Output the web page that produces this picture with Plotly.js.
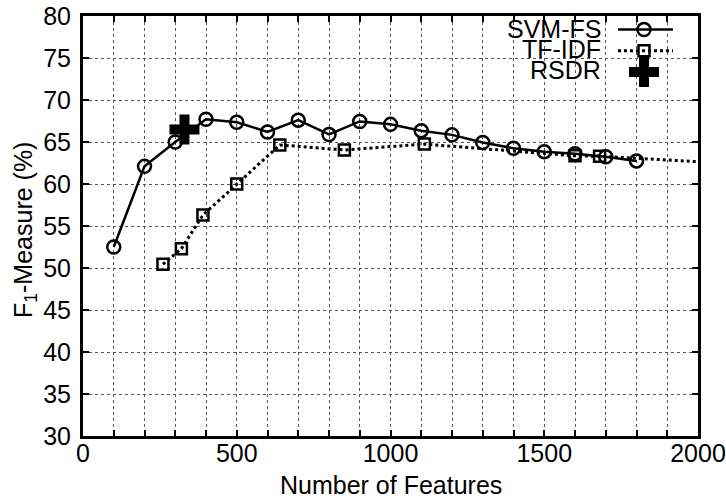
<!DOCTYPE html>
<html>
<head>
<meta charset="utf-8">
<script src="https://cdn.plot.ly/plotly-3.0.1.min.js"></script>
<style>html,body{margin:0;padding:0;background:#fff;}#chart{width:726px;height:499px;}</style>
</head>
<body>
<div id="chart"></div>
<script>
// ---- data ----
var svmX = [100, 200, 300, 400, 500, 600, 700, 800, 900, 1000, 1100, 1200, 1300, 1400, 1500, 1600, 1700, 1800];
var svmY = [52.5, 62.1, 65.0, 67.7, 67.35, 66.2, 67.6, 65.9, 67.45, 67.1, 66.35, 65.85, 64.95, 64.25, 63.85, 63.6, 63.25, 62.75];
var tfX = [260, 320, 390, 500, 640, 850, 1110, 1600, 1680, 2200];
var tfY = [50.45, 52.3, 56.3, 60.0, 64.65, 64.05, 64.75, 63.35, 63.3, 62.25];
var rsdrX = [330];
var rsdrY = [66.5];
var seriesNames = ["SVM-FS", "TF-IDF", "RSDR"];
var xTitle = "Number of Features";
var yTitle = "F<sub>1</sub>-Measure (%)";

var FONT = "Liberation Sans, Arial, Helvetica, sans-serif";
var GRID = "#555";

var traces = [
  {x: svmX, y: svmY, name: seriesNames[0], type: "scatter", mode: "lines+markers",
   line: {color: "#000", width: 2.5},
   marker: {symbol: "circle-open", size: 13, color: "#000", line: {width: 2.5, color: "#000"}},
   cliponaxis: true},
  {x: tfX, y: tfY, name: seriesNames[1], type: "scatter", mode: "lines+markers",
   line: {color: "#000", width: 3, dash: "3px,3px"},
   marker: {symbol: "square-open", size: 11, color: "#000", line: {width: 2.5, color: "#000"}},
   cliponaxis: true},
  {x: rsdrX, y: rsdrY, name: seriesNames[2], type: "scatter", mode: "markers",
   marker: {symbol: "cross", size: 25, color: "#000", line: {width: 0}}}
];

// legend geometry (paper coords)
var symX = 0.9122, lineX0 = 0.8699, lineX1 = 0.9593, textX = 0.8455;
var symY = [0.968, 0.917, 0.8667];
var textY = [0.968, 0.921, 0.871];

var shapes = [
  {type: "rect", xref: "paper", yref: "paper", x0: 0.6911, x1: 0.9789, y0: 0.838, y1: 1,
   fillcolor: "#fff", line: {width: 0}, layer: "between"},
  {type: "line", xref: "paper", yref: "paper", x0: lineX0, x1: lineX1, y0: symY[0], y1: symY[0],
   line: {color: "#000", width: 2.5}},
  {type: "circle", xref: "paper", yref: "paper", xsizemode: "pixel", ysizemode: "pixel",
   xanchor: symX, yanchor: symY[0], x0: -6.5, x1: 6.5, y0: -6.5, y1: 6.5,
   fillcolor: "rgba(0,0,0,0)", line: {color: "#000", width: 2.5}},
  {type: "line", xref: "paper", yref: "paper", x0: lineX0, x1: lineX1, y0: symY[1], y1: symY[1],
   line: {color: "#000", width: 3, dash: "3px,3px"}},
  {type: "rect", xref: "paper", yref: "paper", xsizemode: "pixel", ysizemode: "pixel",
   xanchor: symX, yanchor: symY[1], x0: -5.5, x1: 5.5, y0: -5.5, y1: 5.5,
   fillcolor: "rgba(0,0,0,0)", line: {color: "#000", width: 2.5}},
  {type: "path", xref: "paper", yref: "paper", xsizemode: "pixel", ysizemode: "pixel",
   xanchor: symX, yanchor: symY[2],
   path: "M15,5H5V15H-5V5H-15V-5H-5V-15H5V-5H15Z",
   fillcolor: "#000", line: {width: 0}}
];

var annotations = [
  {text: xTitle, xref: "paper", yref: "paper", x: 0.5, y: 0, xanchor: "center", yanchor: "middle",
   yshift: -49, showarrow: false, font: {family: FONT, size: 25, color: "#000"}},
  {text: yTitle, xref: "paper", yref: "paper", x: 0, y: 0.4905, xanchor: "center", yanchor: "middle",
   xshift: -58, textangle: -90, showarrow: false, font: {family: FONT, size: 25, color: "#000"}}
];
for (var i = 0; i < seriesNames.length; i++) {
  annotations.push({text: seriesNames[i], xref: "paper", yref: "paper", x: textX, y: textY[i],
    xanchor: "right", yanchor: "middle", showarrow: false,
    font: {family: FONT, size: 25, color: "#000"}});
}

var axisCommon = {
  showline: true, linecolor: "#000", linewidth: 3, mirror: "ticks",
  ticks: "inside", ticklen: 6, tickwidth: 2, tickcolor: "#000",
  showgrid: true, gridcolor: GRID, gridwidth: 1, griddash: "dot",
  zeroline: false, tickfont: {family: FONT, size: 25, color: "#000"}
};

var layout = {
  width: 726, height: 499,
  margin: {l: 83, r: 28, t: 16, b: 63, pad: 0},
  paper_bgcolor: "#fff", plot_bgcolor: "#fff",
  showlegend: false,
  xaxis: Object.assign({}, axisCommon, {
    range: [0, 2000], tick0: 0, dtick: 500, ticklabelstandoff: -7,
    minor: {dtick: 100, ticks: "inside", ticklen: 6, tickwidth: 2, tickcolor: "#000",
            showgrid: true, gridcolor: GRID, gridwidth: 1, griddash: "dot"}
  }),
  yaxis: Object.assign({}, axisCommon, {
    range: [30, 80], tick0: 30, dtick: 5, ticklabelstandoff: 4
  }),
  shapes: shapes,
  annotations: annotations
};

Plotly.newPlot("chart", traces, layout, {displayModeBar: false, staticPlot: true});
</script>
</body>
</html>
